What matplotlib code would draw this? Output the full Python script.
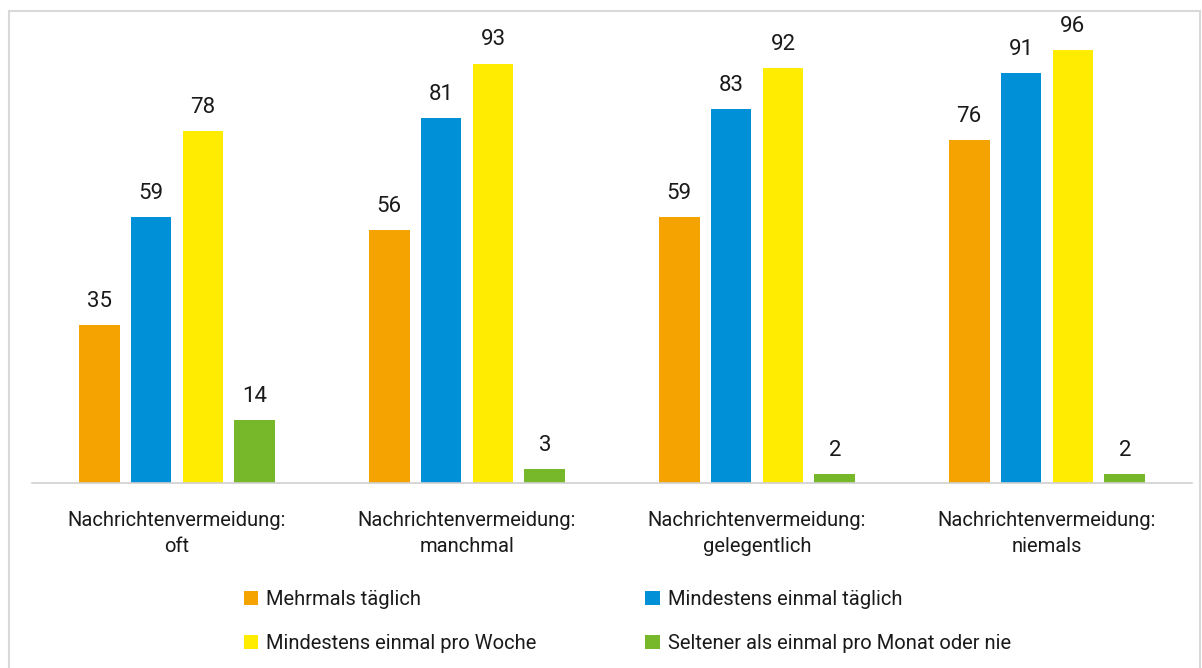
import numpy as np
import matplotlib
matplotlib.use("Agg")
import matplotlib.pyplot as plt
from matplotlib.patches import Rectangle

plt.rcParams['font.family'] = ['Roboto', 'DejaVu Sans']

categories = ["Nachrichtenvermeidung:\noft",
              "Nachrichtenvermeidung:\nmanchmal",
              "Nachrichtenvermeidung:\ngelegentlich",
              "Nachrichtenvermeidung:\nniemals"]
series = ["Mehrmals täglich",
          "Mindestens einmal täglich",
          "Mindestens einmal pro Woche",
          "Seltener als einmal pro Monat oder nie"]
mehrmals = [35, 56, 59, 76]
taeglich = [59, 81, 83, 91]
woche = [78, 93, 92, 96]
selten = [14, 3, 2, 2]
colors = ["#F5A300", "#0090D8", "#FFEC00", "#76B82A"]

fig = plt.figure(figsize=(12.02, 6.68), dpi=100)
ax = fig.add_axes([32/1202, 1 - 483/668, 1160/1202, 451/668])

x = np.arange(len(categories))
width = 0.141
step = 0.179
handles = []
for i, (vals, col, name) in enumerate(zip([mehrmals, taeglich, woche, selten], colors, series)):
    pos = x + (i - 1.5) * step
    bars = ax.bar(pos, vals, width, color=col, label=name)
    handles.append(bars)
    for p, v in zip(pos, vals):
        ax.text(p, v + 2.9, str(v), ha='center', va='bottom', fontsize=16, color='#1a1a1a')

ax.set_xlim(-0.5, 3.5)
ax.set_ylim(0, 100)
ax.set_yticks([])
ax.set_xticks(x)
ax.set_xticklabels(categories, fontsize=14.5, color='#1a1a1a', linespacing=1.45)
ax.tick_params(axis='x', length=0, pad=20)
for s in ['top', 'right', 'left']:
    ax.spines[s].set_visible(False)
ax.spines['bottom'].set_color('#d0d0d0')
ax.spines['bottom'].set_linewidth(1.2)

# legend filled column-wise, so reorder to read row by row
order = [0, 2, 1, 3]
leg = fig.legend([handles[k] for k in order], [series[k] for k in order],
                 loc='upper left', bbox_to_anchor=(226/1202, 1 - 572/668), ncol=2,
                 frameon=False, fontsize=14.5, handlelength=0.7, handleheight=0.7,
                 handletextpad=0.4, columnspacing=5.4, labelspacing=1.25)
for t in leg.get_texts():
    t.set_color('#1a1a1a')

fig.patches.append(Rectangle((9/1202, -0.01), 1191/1202, 1 - 11/668 + 0.01,
                             transform=fig.transFigure, fill=False,
                             edgecolor='#d9d9d9', linewidth=1.5))

fig.savefig("out.png", dpi=100)
